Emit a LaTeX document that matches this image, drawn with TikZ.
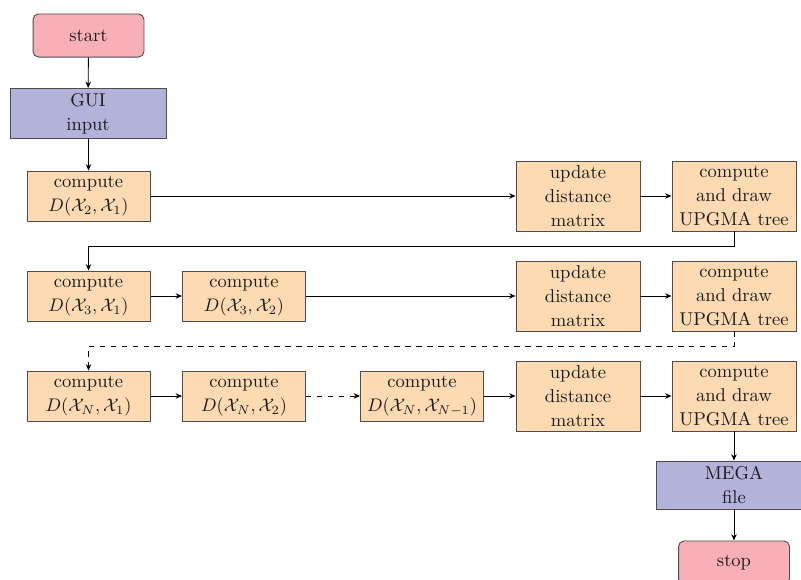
\documentclass[tikz,border=0pt]{standalone}
\usetikzlibrary{arrows.meta}
\definecolor{pinkc}{HTML}{F8AFB7}
\definecolor{bluec}{HTML}{B2B2DA}
\definecolor{orangec}{HTML}{FDDAB2}
\definecolor{edgec}{HTML}{4D4D4D}
\begin{document}
\begin{tikzpicture}[x=0.55pt,y=-0.55pt,
 base/.style={draw=edgec, line width=0.5pt, align=center, inner sep=2pt, text=black!90, font={\fontsize{10.2}{13.1}\selectfont}},
 term/.style={base, fill=pinkc, rounded corners=3pt, minimum width=61pt, minimum height=23.7pt},
 io/.style={base, fill=bluec, minimum width=85.8pt, minimum height=27.5pt},
 comp/.style={base, fill=orangec, minimum width=67.7pt, minimum height=27.5pt},
 upd/.style={base, fill=orangec, minimum width=68.2pt, minimum height=38.5pt},
 arr/.style={-{Stealth[length=3.5pt,width=3pt]}, line width=0.5pt},
]
\useasboundingbox (0,0) rectangle (801,580);
\clip (0,0) rectangle (801,580);
\node[term] (start) at (88.5,35.5) {start};
\node[io] (gui) at (88,113.5) {GUI\\input};
\node[comp] (c1) at (88.5,196) {compute\\$D(\mathcal{X}_2,\mathcal{X}_1)$};
\node[upd] (u1) at (578,196) {update\\distance\\matrix};
\node[upd] (t1) at (734,196) {compute\\and draw\\UPGMA tree};
\node[comp] (c21) at (88.5,296) {compute\\$D(\mathcal{X}_3,\mathcal{X}_1)$};
\node[comp] (c22) at (244,296) {compute\\$D(\mathcal{X}_3,\mathcal{X}_2)$};
\node[upd] (u2) at (578,296) {update\\distance\\matrix};
\node[upd] (t2) at (734,296) {compute\\and draw\\UPGMA tree};
\node[comp] (c31) at (88.5,396) {compute\\$D(\mathcal{X}_N,\mathcal{X}_1)$};
\node[comp] (c32) at (244,396) {compute\\$D(\mathcal{X}_N,\mathcal{X}_2)$};
\node[comp] (c33) at (422,396) {compute\\$D(\mathcal{X}_N,\mathcal{X}_{N-1})$};
\node[upd] (u3) at (578,396) {update\\distance\\matrix};
\node[upd] (t3) at (734,396) {compute\\and draw\\UPGMA tree};
\node[io, minimum height=26.4pt] (mega) at (734,485) {MEGA\\file};
\node[term] (stop) at (734,562.5) {stop};
\draw[arr] (start) -- (gui);
\draw[arr] (gui.south -| c1.north) -- (c1.north);
\draw[arr] (c1) -- (u1);
\draw[arr] (u1) -- (t1);
\draw[arr] (t1.south) -- ++(0,15) -| (c21.north);
\draw[arr] (c21) -- (c22);
\draw[arr] (c22) -- (u2);
\draw[arr] (u2) -- (t2);
\draw[arr, dashed] (t2.south) -- ++(0,15) -| (c31.north);
\draw[arr] (c31) -- (c32);
\draw[arr, dashed] (c32) -- (c33);
\draw[arr] (c33) -- (u3);
\draw[arr] (u3) -- (t3);
\draw[arr] (t3) -- (mega);
\draw[arr] (mega) -- (stop);
\end{tikzpicture}
\end{document}
